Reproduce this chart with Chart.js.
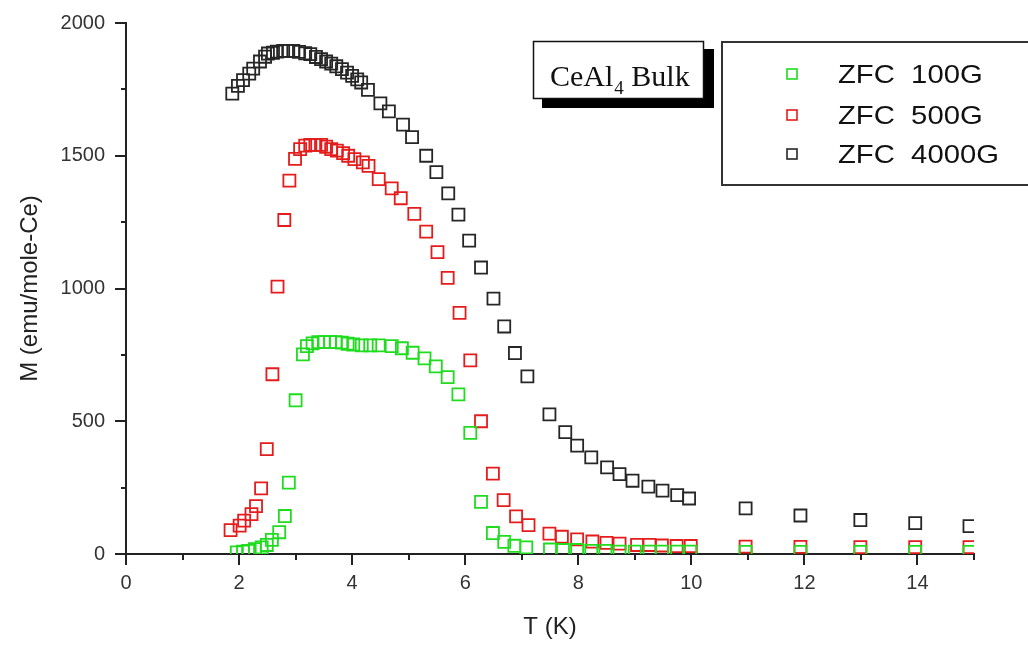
<!DOCTYPE html>
<html>
<head>
<meta charset="utf-8">
<script src="https://cdn.jsdelivr.net/npm/chart.js@4.4.1/dist/chart.umd.min.js"></script>
<style>
  html, body { margin: 0; padding: 0; background: #fff; }
  #wrap { width: 1028px; height: 645px; position: relative; }
</style>
</head>
<body>
<div id="wrap"><canvas id="mchart"></canvas></div>
<script>
// ZFC magnetization of CeAl4 bulk, T in K, M in emu/mole-Ce
const t100 = [1.96, 2.07, 2.16, 2.28, 2.40, 2.49, 2.58, 2.71, 2.81, 2.88, 3.00, 3.13, 3.20, 3.30, 3.40, 3.50,
  3.61, 3.71, 3.82, 3.92, 4.02, 4.17, 4.32, 4.47, 4.70, 4.88, 5.07, 5.28, 5.48, 5.69, 5.88, 6.09, 6.28, 6.49,
  6.69, 6.87, 7.08, 7.50, 7.73, 7.98, 8.23, 8.48, 8.73, 9.00, 9.26, 9.48, 9.75, 9.98, 10.96, 11.93, 12.99, 13.96, 14.92];
const m100 = [6, 9, 12, 18, 25, 34, 53, 82, 143, 269, 579, 752, 783, 793, 798, 798,
  798, 798, 796, 792, 789, 786, 786, 786, 783, 775, 758, 737, 707, 666, 601, 456, 196, 79,
  46, 31, 25, 17, 15, 15, 12, 12, 9, 9, 9, 9, 9, 9, 8, 8, 8, 8, 8];

const t500 = [1.85, 2.01, 2.09, 2.22, 2.30, 2.39, 2.49, 2.59, 2.68, 2.80, 2.89, 2.99, 3.08, 3.17, 3.26, 3.35,
  3.45, 3.54, 3.63, 3.73, 3.84, 3.93, 4.04, 4.19, 4.29, 4.47, 4.70, 4.86, 5.10, 5.31, 5.51, 5.69, 5.90, 6.09,
  6.28, 6.49, 6.68, 6.90, 7.12, 7.49, 7.71, 7.98, 8.25, 8.50, 8.73, 9.04, 9.26, 9.48, 9.74, 9.99,
  10.96, 11.93, 12.99, 13.96, 14.92];
const m500 = [90, 107, 126, 150, 180, 247, 395, 677, 1007, 1258, 1406, 1488, 1525, 1538, 1541, 1541,
  1541, 1534, 1525, 1519, 1510, 1500, 1487, 1475, 1462, 1412, 1377, 1340, 1281, 1214, 1137, 1040, 908, 729,
  500, 303, 203, 142, 109, 77, 65, 55, 47, 42, 39, 34, 34, 32, 30, 30,
  28, 27, 26, 26, 26];

const t4000 = [1.88, 1.98, 2.07, 2.18, 2.25, 2.37, 2.46, 2.51, 2.60, 2.67, 2.78, 2.87, 2.96, 3.06, 3.17, 3.26,
  3.36, 3.45, 3.54, 3.63, 3.72, 3.82, 3.91, 4.00, 4.09, 4.16, 4.28, 4.50, 4.65, 4.90, 5.06, 5.31, 5.49, 5.70,
  5.88, 6.07, 6.28, 6.50, 6.69, 6.88, 7.10, 7.49, 7.77, 7.98, 8.23, 8.51, 8.73, 8.96, 9.24, 9.49, 9.75, 9.96,
  10.96, 11.93, 12.99, 13.96, 14.92];
const m4000 = [1734, 1763, 1785, 1809, 1828, 1855, 1873, 1885, 1888, 1892, 1895, 1895, 1895, 1891, 1886, 1883,
  1872, 1864, 1855, 1847, 1837, 1826, 1813, 1801, 1788, 1776, 1748, 1697, 1667, 1617, 1570, 1500, 1438, 1358,
  1278, 1180, 1079, 962, 857, 757, 669, 526, 459, 408, 364, 326, 301, 276, 254, 239, 222, 209,
  172, 145, 128, 116, 105];

const seriesLabels = ['ZFC  100G', 'ZFC  500G', 'ZFC  4000G'];
const seriesColors = ['#1fdc1f', '#e41c1c', '#262626'];
const xTicks = [0, 2, 4, 6, 8, 10, 12, 14];
const xMinor = [1, 3, 5, 7, 9, 11, 13, 15];
const yTicks = [0, 500, 1000, 1500, 2000];
const yMinor = [250, 750, 1250, 1750];

const axisColor = '#222';
const sansFont = 'Liberation Sans, Arial, Helvetica, sans-serif';
const serifFont = '"Liberation Serif", "Times New Roman", serif';

function toPoints(ts, ms) {
  return ts.map((t, i) => ({ x: t, y: ms[i] }));
}

const seriesData = [toPoints(t100, m100), toPoints(t500, m500), toPoints(t4000, m4000)];

// short inner ticks at the half steps
const minorTicks = {
  id: 'minorTicks',
  afterDraw(chart) {
    const { ctx, scales: { x, y } } = chart;
    ctx.save();
    ctx.strokeStyle = axisColor;
    ctx.lineWidth = 2;
    ctx.beginPath();
    xMinor.forEach(v => {
      const px = Math.round(x.getPixelForValue(v));
      ctx.moveTo(px, x.top);
      ctx.lineTo(px, x.top + 6);
    });
    yMinor.forEach(v => {
      const py = Math.round(y.getPixelForValue(v));
      ctx.moveTo(y.right, py);
      ctx.lineTo(y.right - 5, py);
    });
    ctx.stroke();
    ctx.restore();
  }
};

// sample tag with drop shadow and the framed legend
const boxes = {
  id: 'boxes',
  afterDraw(chart) {
    const ctx = chart.ctx;
    ctx.save();

    ctx.fillStyle = '#000';
    ctx.fillRect(542, 49, 172, 59);
    ctx.fillStyle = '#fff';
    ctx.fillRect(533, 41, 171, 58);
    ctx.strokeStyle = '#111';
    ctx.lineWidth = 1.5;
    ctx.strokeRect(533.5, 41.5, 170, 57);

    ctx.fillStyle = '#111';
    ctx.textBaseline = 'alphabetic';
    ctx.textAlign = 'left';
    ctx.font = '30px ' + serifFont;
    let tx = 550;
    ctx.fillText('CeAl', tx, 86);
    tx += ctx.measureText('CeAl').width + 1;
    ctx.font = '19px ' + serifFont;
    ctx.fillText('4', tx, 94);
    tx += ctx.measureText('4').width;
    ctx.font = '30px ' + serifFont;
    ctx.fillText(' Bulk', tx, 86);

    ctx.fillStyle = '#fff';
    ctx.fillRect(722, 42, 320, 143);
    ctx.strokeStyle = '#333';
    ctx.lineWidth = 2;
    ctx.strokeRect(722, 42, 320, 143);

    const rowY = [74, 115, 154];
    chart.data.datasets.forEach((ds, i) => {
      const cy = rowY[i];
      ctx.strokeStyle = ds.borderColor;
      ctx.lineWidth = 1.6;
      ctx.strokeRect(787, cy - 5, 10, 10);
      ctx.save();
      ctx.translate(838, cy + 2);
      ctx.scale(1.17, 1);
      ctx.fillStyle = '#111';
      ctx.font = '25px ' + sansFont;
      ctx.textBaseline = 'middle';
      ctx.fillText(ds.label, 0, 0);
      ctx.restore();
    });
    ctx.restore();
  }
};

const cfg = {
  type: 'scatter',
  data: {
    datasets: seriesData.map((pts, i) => ({
      label: seriesLabels[i],
      data: pts,
      showLine: false,
      pointStyle: 'rect',
      pointRadius: 8.5,
      pointHoverRadius: 8.5,
      pointBorderWidth: 1.8,
      borderColor: seriesColors[i],
      backgroundColor: 'rgba(0,0,0,0)',
      clip: 0
    }))
  },
  options: {
    responsive: false,
    animation: false,
    events: [],
    layout: { padding: { top: 23, right: 54, left: 0, bottom: 0 } },
    plugins: {
      legend: { display: false },
      tooltip: { enabled: false }
    },
    scales: {
      x: {
        type: 'linear',
        min: 0,
        max: 15,
        afterBuildTicks: (scale) => { scale.ticks = xTicks.map(v => ({ value: v })); },
        afterFit: (scale) => { scale.height = 91; },
        border: { display: true, color: axisColor, width: 2 },
        grid: { drawOnChartArea: false, drawTicks: true, tickLength: 11, color: axisColor, lineWidth: 2 },
        ticks: {
          autoSkip: false, maxRotation: 0, padding: 6, color: '#333',
          font: { family: sansFont, size: 20 },
          callback: (v) => String(v)
        },
        title: { display: true, text: 'T (K)', color: '#222', padding: { top: 0, bottom: 3 }, font: { family: sansFont, size: 24 } }
      },
      y: {
        type: 'linear',
        min: 0,
        max: 2000,
        afterBuildTicks: (scale) => { scale.ticks = yTicks.map(v => ({ value: v })); },
        afterFit: (scale) => { scale.width = 126; },
        border: { display: true, color: axisColor, width: 2 },
        grid: { drawOnChartArea: false, drawTicks: true, tickLength: 11, color: axisColor, lineWidth: 2 },
        ticks: {
          autoSkip: false, padding: 10, color: '#333',
          font: { family: sansFont, size: 20 },
          callback: (v) => String(v)
        },
        title: { display: true, text: 'M (emu/mole-Ce)', color: '#222', padding: { top: 16, bottom: 0 }, font: { family: sansFont, size: 24 } }
      }
    }
  },
  plugins: [minorTicks, boxes]
};

const canvas = document.getElementById('mchart');
canvas.width = 1028;
canvas.height = 645;
new Chart(canvas, cfg);
</script>
</body>
</html>
